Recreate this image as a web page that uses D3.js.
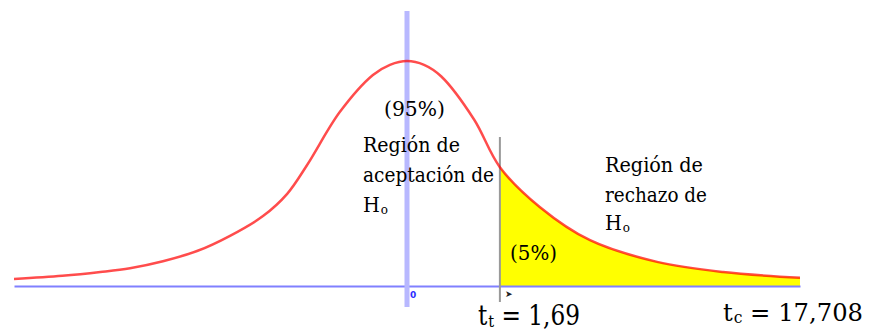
<!DOCTYPE html>
<html>
<head>
<meta charset="utf-8">
<script src="https://cdn.jsdelivr.net/npm/d3@7"></script>
<style>
  body { margin: 0; background: #fff; }
</style>
</head>
<body>
<svg id="chart"></svg>
<script>
// t values (0 at the blue axis, 1,69 at the grey line)
var tValues = [-7.15, -6.27, -5.58, -5.04, -4.44, -3.82, -3.22, -2.62, -2.18, -1.82, -1.22, -0.62, -0.31,
               0, 0.31, 0.62, 1.22, 1.69, 2.42, 3.33, 4.55, 5.75, 7.15];
// curve heights (density)
var densityValues = [0.011, 0.016, 0.022, 0.028, 0.039, 0.055, 0.079, 0.110, 0.145, 0.190, 0.274, 0.332, 0.348,
                     0.354, 0.348, 0.330, 0.262, 0.187, 0.124, 0.072, 0.038, 0.022, 0.013];
var tCritical = 1.69;
var tickLabels = ["0", "\u27A4"];

var width = 870, height = 334;
var serif = "'DejaVu Serif', serif";

var svg = d3.select("#chart")
    .attr("width", width)
    .attr("height", height);

var x = d3.scaleLinear().domain([-7.15, 7.15]).range([14, 800]);
var y = d3.scaleLinear().domain([0, 0.354]).range([286, 61]);

var points = tValues.map(function (t, i) { return { t: t, d: densityValues[i] }; });

// clip for the rejection region
svg.append("clipPath")
    .attr("id", "rechazo")
    .append("rect")
    .attr("x", x(tCritical))
    .attr("y", 0)
    .attr("width", x(7.15) - x(tCritical))
    .attr("height", y(0));

var area = d3.area()
    .x(function (d) { return x(d.t); })
    .y0(y(0))
    .y1(function (d) { return y(d.d); })
    .curve(d3.curveCatmullRom);

svg.append("path")
    .datum(points)
    .attr("d", area)
    .attr("clip-path", "url(#rechazo)")
    .attr("fill", "#ffff00");

// horizontal axis
var xAxis = svg.append("g")
    .attr("transform", "translate(0," + y(0) + ")")
    .call(d3.axisBottom(x).tickValues([]).tickSize(0).tickSizeOuter(0));
xAxis.select(".domain").attr("stroke", "#8080ff").attr("stroke-width", 2);

// vertical axis
svg.append("line")
    .attr("x1", x(0)).attr("x2", x(0))
    .attr("y1", 11).attr("y2", 307)
    .attr("stroke", "#b8b8ff")
    .attr("stroke-width", 5);

// critical value line
svg.append("line")
    .attr("x1", x(tCritical)).attr("x2", x(tCritical))
    .attr("y1", 137).attr("y2", 302)
    .attr("stroke", "#999")
    .attr("stroke-width", 2);

// density curve
var line = d3.line()
    .x(function (d) { return x(d.t); })
    .y(function (d) { return y(d.d); })
    .curve(d3.curveCatmullRom);

svg.append("path")
    .datum(points)
    .attr("d", line)
    .attr("fill", "none")
    .attr("stroke", "#ff0000")
    .attr("stroke-opacity", 0.7)
    .attr("stroke-width", 2.5);

// small tick marks
svg.append("text")
    .attr("x", x(0) + 3).attr("y", 298)
    .attr("font-family", "DejaVu Sans")
    .attr("font-size", 9)
    .attr("font-weight", "bold")
    .attr("fill", "#3030ff")
    .text(tickLabels[0]);

svg.append("text")
    .attr("x", x(tCritical) + 5).attr("y", 297)
    .attr("font-family", "DejaVu Sans")
    .attr("font-size", 9)
    .attr("font-weight", "bold")
    .attr("fill", "#222")
    .text(tickLabels[1]);

// labels (len = width measured in the reference)
function label(tx, ty, size, len, main, sub, rest) {
    var t = svg.append("text")
        .attr("x", tx).attr("y", ty)
        .attr("font-family", serif)
        .attr("font-size", size)
        .attr("textLength", len)
        .attr("lengthAdjust", "spacingAndGlyphs")
        .attr("fill", "#000");
    t.append("tspan").text(main);
    if (sub) {
        var shift = Math.round(size * 0.08);
        t.append("tspan")
            .attr("dx", 1)
            .attr("dy", shift)
            .attr("font-size", Math.round(size * 0.62))
            .text(sub);
        if (rest) {
            t.append("tspan")
                .attr("dy", -shift)
                .text(rest);
        }
    }
}

label(384, 116, 21, 61, "(95%)");
label(363, 152, 21, 97, "Región de");
label(363, 182, 21, 131, "aceptación de");
label(363, 212, 21, 25, "H", "o");

label(605, 172, 21, 98, "Región de");
label(605, 202, 21, 102, "rechazo de");
label(605, 230, 21, 25, "H", "o");

label(510, 260, 21, 47, "(5%)");

label(478, 325, 27, 102, "t", "t", " = 1,69");
label(723, 321, 25, 140, "t", "c", " = 17,708");
</script>
</body>
</html>
